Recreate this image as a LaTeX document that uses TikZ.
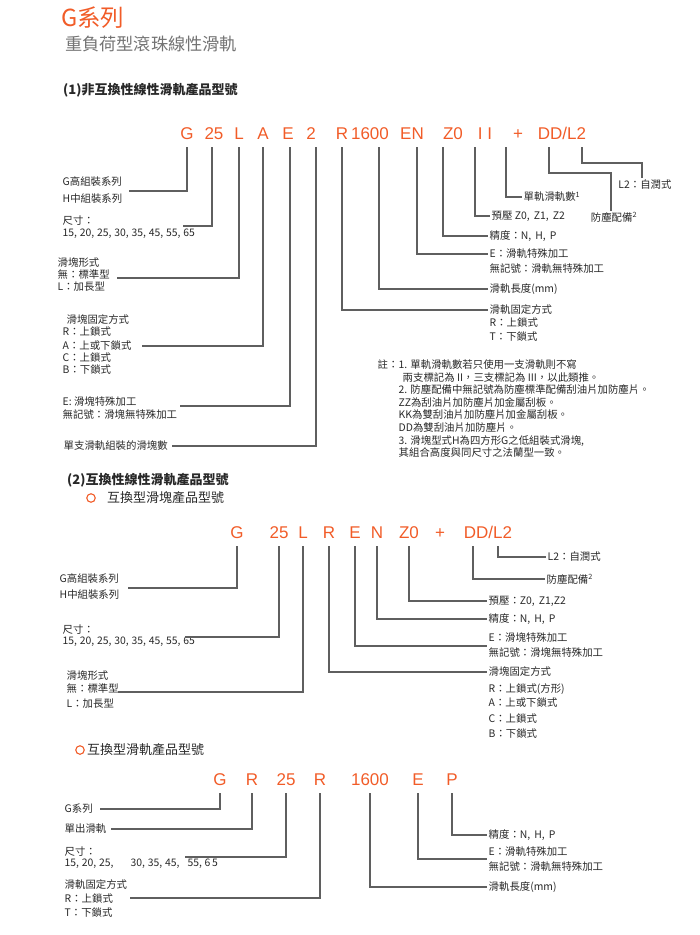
\documentclass[tikz,border=0pt]{standalone}
\usepackage{fontspec}
\setmainfont{Liberation Sans}
\newfontfamily\cjk{Noto Sans CJK TC}
\newfontfamily\codefont{Liberation Sans}

\definecolor{codeorange}{RGB}{241,92,40}
\definecolor{linegray}{RGB}{95,95,95}
\definecolor{labelgray}{RGB}{40,40,40}
\definecolor{subgray}{RGB}{115,115,115}

\newcommand{\numgap}{\hspace{2.8pt}}

\tikzset{
	code/.style={font=\codefont\fontsize{17}{18}\selectfont, text=codeorange, inner sep=0pt, text depth=0pt, anchor=base},
	lbl/.style={font=\cjk\fontsize{10.4}{12}\selectfont, text=labelgray, inner sep=1.5pt, anchor=west},
	lblnorth/.style={lbl, anchor=north},
	head/.style={font=\cjk\bfseries\fontsize{13}{15}\selectfont, text=labelgray, inner sep=0pt, anchor=west},
	subhead/.style={font=\cjk\fontsize{13}{15}\selectfont, text=labelgray, inner sep=0pt, anchor=west},
	ring/.style={circle, draw=codeorange, line width=1.1pt, inner sep=0pt, minimum size=8.5pt},
	lead/.style={draw=linegray, line width=1.1pt, shorten <=8pt},
}

\begin{document}
\begin{tikzpicture}[x=1pt, y=-1pt]
	\useasboundingbox (0,0) rectangle (700,935);
	
	% titles
	\node[font=\cjk\fontsize{23.5}{25}\selectfont, text=codeorange, inner sep=0pt, anchor=west] (title) at (61,18) {G系列};
	\node[font=\cjk\fontsize{17.2}{19}\selectfont, text=subgray, inner sep=0pt, anchor=west] (subtitle) at (65,44) {重負荷型滾珠線性滑軌};
	\node[head] (head1) at (63,90) {(1)非互換性線性滑軌產品型號};
	
	% (1) code line
	\node[code] (aG) at (187,139) {G};
	\node[code] (aSize) at (214,139) {25};
	\node[code] (aL) at (239,139) {L};
	\node[code] (aA) at (263,139) {A};
	\node[code] (aE) at (288,139) {E};
	\node[code] (aNum) at (311,139) {2};
	\node[code] (aR) at (342,139) {R};
	\node[code] (aLen) at (370,139) {1600};
	\node[code] (aEN) at (412,139) {EN};
	\node[code] (aZ) at (453,139) {Z0};
	\node[code] (aII) at (485,139) {I I};
	\node[code] (aPlus) at (518,139) {+};
	\node[code] (aDD) at (562,139) {DD/L2};
	
	% (1) left labels
	\node[lbl] (lG1) at (61,182) {G高組裝系列};
	\node[lbl] (lG2) at (61,199) {H中組裝系列};
	\node[lbl] (lSize1) at (61,221) {尺寸：};
	\node[lbl] (lSize2) at (61,234) {15,\numgap 20,\numgap 25,\numgap 30,\numgap 35,\numgap 45,\numgap 55,\numgap 65};
	\node[lbl] (lBlk1) at (56,263) {滑塊形式};
	\node[lbl] (lBlk2) at (56,275) {無：標準型};
	\node[lbl] (lBlk3) at (56,287) {L：加長型};
	\node[lbl] (lFix1) at (65,320) {滑塊固定方式};
	\node[lbl] (lFix2) at (61,332) {R：上鎖式};
	\node[lbl] (lFix3) at (61,346) {A：上或下鎖式};
	\node[lbl] (lFix4) at (61,358) {C：上鎖式};
	\node[lbl] (lFix5) at (61,370) {B：下鎖式};
	\node[lbl] (lSp1) at (61,402) {E: 滑塊特殊加工};
	\node[lbl] (lSp2) at (61,415) {無記號：滑塊無特殊加工};
	\node[lbl] (lNum) at (62,446) {單支滑軌組裝的滑塊數};
	
	% (1) right labels
	\node[lbl] (lCount) at (522,197) {單軌滑軌數\textsuperscript{1}};
	\node[lbl] (lPre) at (490,216) {預壓 Z0,\, Z1,\, Z2};
	\node[lbl] (lPrec) at (488,236) {精度：N,\, H,\, P};
	\node[lbl] (lEN1) at (488,254) {E：滑軌特殊加工};
	\node[lbl] (lEN2) at (488,269) {無記號：滑軌無特殊加工};
	\node[lbl] (lLen) at (488,289) {滑軌長度(mm)};
	\node[lbl] (lRfix1) at (488,310) {滑軌固定方式};
	\node[lbl] (lRfix2) at (488,323) {R：上鎖式};
	\node[lbl] (lRfix3) at (488,337) {T：下鎖式};
	\node[lblnorth] (lDust) at (614,211) {防塵配備\textsuperscript{2}};
	\node[lblnorth] (lLube) at (645,178) {L2：自潤式};
	
	\coordinate (eG) at (129,191);
	\coordinate (eSize) at (183,226);
	\coordinate (eL) at (117,278);
	\coordinate (eA) at (142,346);
	\coordinate (eE) at (180,406);
	\coordinate (eNum) at (172,446);
	\coordinate (kDust) at (611,173);
	\coordinate (kLube) at (642,163);
	
	\draw[lead] (aG.south) |- (eG);
	\draw[lead] ([xshift=-2pt]aSize.south) |- (eSize);
	\draw[lead] (aL.south) |- (eL);
	\draw[lead] (aA.south) |- (eA);
	\draw[lead] ([xshift=2pt]aE.south) |- (eE);
	\draw[lead] ([xshift=5pt]aNum.south) |- (eNum);
	\draw[lead] (aR.south) |- (lRfix1.west);
	\draw[lead] ([xshift=9pt]aLen.south) |- (lLen.west);
	\draw[lead] ([xshift=5pt]aEN.south) |- (lEN1.west);
	\draw[lead] ([xshift=-10pt]aZ.south) |- (lPrec.west);
	\draw[lead] ([xshift=-10pt]aII.south) |- (lPre.west);
	\draw[lead] ([xshift=21pt]aII.south) |- (lCount.west);
	\draw[lead] ([xshift=-13pt]aDD.south) |- (kDust) -- (lDust.north -| kDust);
	\draw[lead] ([xshift=20pt]aDD.south) |- (kLube) -- (lLube.north -| kLube);
	
	% note
	\node[lbl, anchor=north west] (noteMark) at (376,358) {註：};
	\node[lbl, anchor=north west, align=left, font=\cjk\fontsize{10.4}{12.6}\selectfont] (note) at (397,358)
	{1. 單軌滑軌數若只使用一支滑軌則不寫\\
	\hspace*{4pt}兩支標記為 II，三支標記為 III，以此類推。\\
	2. 防塵配備中無記號為防塵標準配備刮油片加防塵片。\\
	ZZ為刮油片加防塵片加金屬刮板。\\
	KK為雙刮油片加防塵片加金屬刮板。\\
	DD為雙刮油片加防塵片。\\
	3. 滑塊型式H為四方形G之低組裝式滑塊,\\
	其組合高度與同尺寸之法蘭型一致。};
	
	% (2) interchangeable
	\node[head] (head2) at (67,480) {(2)互換性線性滑軌產品型號};
	\node[ring] (ring2) at (91,498) {};
	\node[subhead] (sub2) at (107,498) {互換型滑塊產品型號};
	
	\node[code] (bG) at (237,538) {G};
	\node[code] (bSize) at (279,538) {25};
	\node[code] (bL) at (303,538) {L};
	\node[code] (bR) at (329,538) {R};
	\node[code] (bE) at (355,538) {E};
	\node[code] (bN) at (377,538) {N};
	\node[code] (bZ) at (409,538) {Z0};
	\node[code] (bPlus) at (440,538) {+};
	\node[code] (bDD) at (488,538) {DD/L2};
	
	\node[lbl] (mG1) at (58,579) {G高組裝系列};
	\node[lbl] (mG2) at (58,595) {H中組裝系列};
	\node[lbl] (mSize1) at (61,630) {尺寸：};
	\node[lbl] (mSize2) at (61,642) {15,\numgap 20,\numgap 25,\numgap 30,\numgap 35,\numgap 45,\numgap 55,\numgap 65};
	\node[lbl] (mBlk1) at (65,676) {滑塊形式};
	\node[lbl] (mBlk2) at (65,689) {無：標準型};
	\node[lbl] (mBlk3) at (65,704) {L：加長型};
	
	\node[lbl] (mLube) at (546,557) {L2：自潤式};
	\node[lbl] (mDust) at (545,579) {防塵配備\textsuperscript{2}};
	\node[lbl] (mPre) at (487,601) {預壓：Z0,\, Z1,Z2};
	\node[lbl] (mPrec) at (487,619) {精度：N,\, H,\, P};
	\node[lbl] (mE1) at (487,638) {E：滑塊特殊加工};
	\node[lbl] (mE2) at (487,653) {無記號：滑塊無特殊加工};
	\node[lbl] (mFix1) at (487,672) {滑塊固定方式};
	\node[lbl] (mFix2) at (487,689) {R：上鎖式(方形)};
	\node[lbl] (mFix3) at (487,703) {A：上或下鎖式};
	\node[lbl] (mFix4) at (487,719) {C：上鎖式};
	\node[lbl] (mFix5) at (487,734) {B：下鎖式};
	
	\coordinate (eG2) at (128,588);
	\coordinate (eSize2) at (185,637);
	\coordinate (eL2) at (118,692);
	\coordinate (eE2) at (487,646);
	
	\draw[lead] (bG.south) |- (eG2);
	\draw[lead] (bSize.south) |- (eSize2);
	\draw[lead] (bL.south) |- (eL2);
	\draw[lead] (bR.south) |- (mFix1.west);
	\draw[lead] (bE.south) |- (eE2);
	\draw[lead] (bN.south) |- (mPrec.west);
	\draw[lead] (bZ.south) |- (mPre.west);
	\draw[lead] ([xshift=-15pt]bDD.south) |- (mDust.west);
	\draw[lead] ([xshift=10pt]bDD.south) |- (mLube.west);
	
	% (3) interchangeable rail
	\node[ring] (ring3) at (80,750) {};
	\node[subhead] (sub3) at (87,750) {互換型滑軌產品型號};
	
	\node[code] (cG) at (220,785) {G};
	\node[code] (cRail) at (252,785) {R};
	\node[code] (cSize) at (286,785) {25};
	\node[code] (cR) at (320,785) {R};
	\node[code] (cLen) at (370,785) {1600};
	\node[code] (cE) at (418,785) {E};
	\node[code] (cP) at (452,785) {P};
	
	\node[lbl] (pG) at (63,809) {G系列};
	\node[lbl] (pRail) at (63,829) {單出滑軌};
	\node[lbl] (pSize1) at (63,852) {尺寸：};
	\node[lbl] (pSize2) at (63,864) {15,\numgap 20,\numgap 25,\hspace{17pt}30,\numgap 35,\numgap 45,\hspace{8pt}55,\numgap 6\,5};
	\node[lbl] (pFix1) at (63,885) {滑軌固定方式};
	\node[lbl] (pFix2) at (63,899) {R：上鎖式};
	\node[lbl] (pFix3) at (63,913) {T：下鎖式};
	
	\node[lbl] (pPrec) at (487,835) {精度：N,\, H,\, P};
	\node[lbl] (pE1) at (487,852) {E：滑軌特殊加工};
	\node[lbl] (pE2) at (487,867) {無記號：滑軌無特殊加工};
	\node[lbl] (pLen) at (487,887) {滑軌長度(mm)};
	
	\coordinate (eG3) at (100,809);
	\coordinate (eRail) at (111,829);
	\coordinate (eSize3) at (185,857);
	\coordinate (eR3) at (130,898);
	\coordinate (eE3) at (487,859);
	
	\draw[lead] (cG.south) |- (eG3);
	\draw[lead] (cRail.south) |- (eRail);
	\draw[lead] (cSize.south) |- (eSize3);
	\draw[lead] (cR.south) |- (eR3);
	\draw[lead] (cLen.south) |- (pLen.west);
	\draw[lead] (cE.south) |- (eE3);
	\draw[lead] (cP.south) |- (pPrec.west);
	
\end{tikzpicture}
\end{document}
